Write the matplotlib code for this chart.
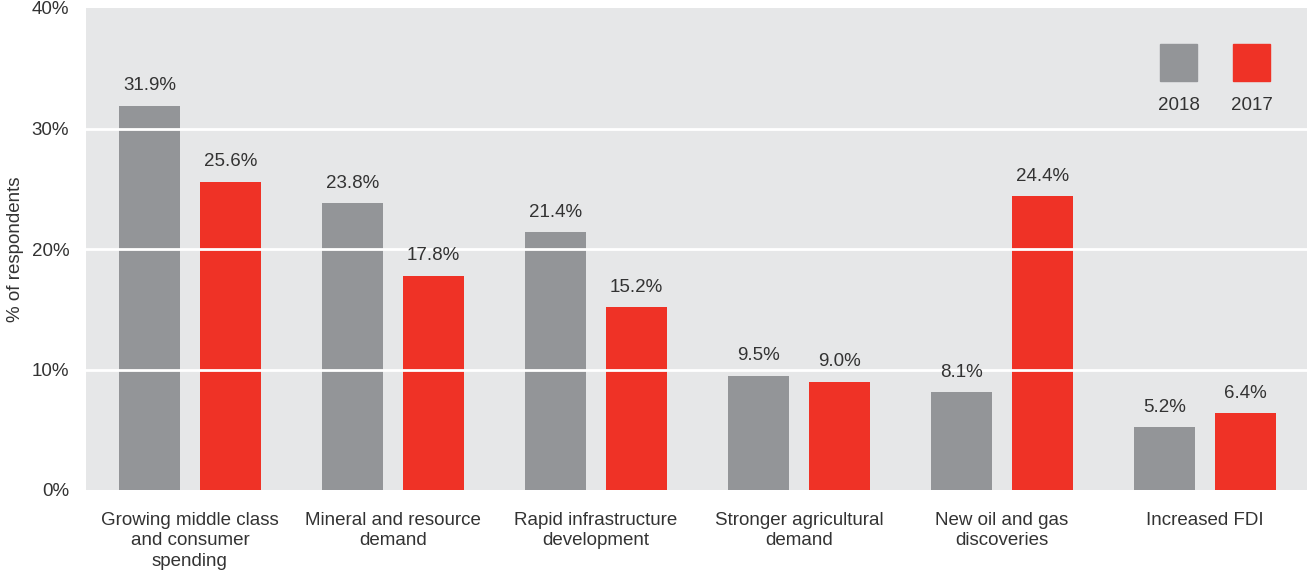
import matplotlib
matplotlib.use("Agg")
import matplotlib.pyplot as plt
from matplotlib import font_manager
from matplotlib.patches import Rectangle
import numpy as np

categories = [
    "Growing middle class\nand consumer\nspending",
    "Mineral and resource\ndemand",
    "Rapid infrastructure\ndevelopment",
    "Stronger agricultural\ndemand",
    "New oil and gas\ndiscoveries",
    "Increased FDI",
]
values_2018 = [31.9, 23.8, 21.4, 9.5, 8.1, 5.2]
values_2017 = [25.6, 17.8, 15.2, 9.0, 24.4, 6.4]
series_labels = ["2018", "2017"]
y_ticks = [0, 10, 20, 30, 40]
y_tick_labels = ["0%", "10%", "20%", "30%", "40%"]

GREY = "#939598"
RED = "#EF3226"
BG = "#E6E7E8"
TEXT = "#333333"

available = {f.name for f in font_manager.fontManager.ttflist}
family = "Liberation Sans Narrow" if "Liberation Sans Narrow" in available else "Liberation Sans"
plt.rcParams["font.family"] = [family, "DejaVu Sans"]

fig = plt.figure(figsize=(13.07, 5.71), dpi=100)
ax = fig.add_axes([86 / 1307, 1 - 490 / 571, 1 - 86 / 1307, (490 - 8) / 571])
ax.set_facecolor(BG)

x = np.arange(len(categories))
width = 0.30
offset = 0.20
bars18 = ax.bar(x - offset, values_2018, width, color=GREY, zorder=2)
bars17 = ax.bar(x + offset, values_2017, width, color=RED, zorder=2)

for bars, vals in ((bars18, values_2018), (bars17, values_2017)):
    for b, v in zip(bars, vals):
        ax.annotate(f"{v:.1f}%", (b.get_x() + b.get_width() / 2, v),
                    xytext=(0, 8), textcoords="offset points",
                    ha="center", va="bottom", fontsize=13.5, color=TEXT,
                    zorder=5)

for yv in (10, 20, 30):
    ax.axhline(yv, color="white", lw=2, zorder=3)

ax.set_xlim(-0.512, 5.0 + 0.502)
ax.set_ylim(0, 40)
ax.set_yticks(y_ticks)
ax.set_yticklabels(y_tick_labels, fontsize=13.5, color=TEXT)
ax.set_xticks(x)
ax.set_xticklabels(categories, fontsize=13.5, color=TEXT, linespacing=1.25)
ax.tick_params(axis="both", length=0)
ax.tick_params(axis="y", pad=12)
ax.tick_params(axis="x", pad=16)
for s in ax.spines.values():
    s.set_visible(False)

ax.set_ylabel("% of respondents", fontsize=13.5, color=TEXT)
ax.yaxis.set_label_coords(-0.0505, 0.5)

# Legend: coloured squares with year labels beneath
trans = ax.transAxes
ax_w = 1307 - 86
ax_h = 490 - 8
for (left_px, color, label) in ((1160, GREY, series_labels[0]), (1233, RED, series_labels[1])):
    x0 = (left_px - 86) / ax_w
    y0 = (490 - 81) / ax_h
    ax.add_patch(Rectangle((x0, y0), 37 / ax_w, 37 / ax_h, transform=trans,
                           color=color, zorder=4, clip_on=False))
    ax.text(x0 + 18.5 / ax_w, (490 - 105) / ax_h, label, transform=trans,
            ha="center", va="center", fontsize=13.5, color=TEXT)

fig.savefig("out.png", dpi=100, facecolor="white")
